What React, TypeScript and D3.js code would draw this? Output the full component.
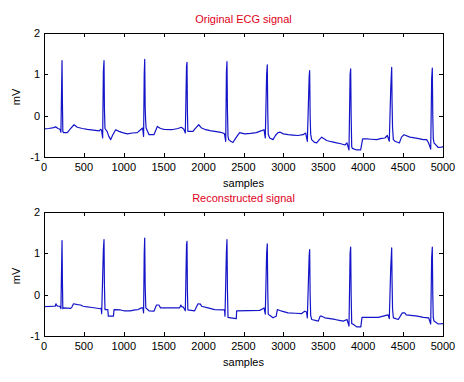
import React from "react";
import * as d3 from "d3";

const xTicks = [0, 500, 1000, 1500, 2000, 2500, 3000, 3500, 4000, 4500, 5000];
const yTicks = [-1, 0, 1, 2];
const titles = ["Original ECG signal", "Reconstructed signal"];
const xLabel = "samples";
const yLabel = "mV";

// [sample, mV]
const originalSignal: [number, number][] = [
  [0,-0.32],[60,-0.31],[120,-0.29],[146,-0.27],[175,-0.31],[200,-0.33],[212,-0.40],[220,0.58],[226,1.33],[231,0.3],[236,-0.38],[245,-0.41],[292,-0.41],[330,-0.32],[376,-0.22],[418,-0.28],[480,-0.31],[543,-0.33],[620,-0.35],[689,-0.37],[712,-0.33],[722,-0.36],[735,-0.54],[744,1.07],[752,1.33],[757,0.20],[764,-0.31],[790,-0.38],[812,-0.50],[836,-0.58],[858,-0.48],[898,-0.34],[940,-0.38],[984,-0.41],[1044,-0.44],[1110,-0.42],[1169,-0.41],[1211,-0.34],[1236,-0.30],[1248,-0.50],[1256,1.0],[1262,1.36],[1268,0.20],[1274,-0.13],[1280,-0.30],[1316,-0.46],[1378,-0.46],[1420,-0.26],[1460,-0.31],[1504,-0.33],[1600,-0.34],[1679,-0.31],[1721,-0.28],[1750,-0.32],[1771,-0.42],[1786,1.2],[1792,1.29],[1797,0.1],[1803,-0.38],[1867,-0.38],[1900,-0.30],[1939,-0.22],[1975,-0.30],[2014,-0.33],[2080,-0.36],[2139,-0.38],[2200,-0.40],[2243,-0.42],[2262,-0.44],[2277,-0.62],[2286,1.05],[2293,1.31],[2299,0.1],[2306,-0.50],[2314,-0.58],[2340,-0.62],[2368,-0.65],[2400,-0.55],[2422,-0.49],[2452,-0.41],[2515,-0.44],[2590,-0.43],[2661,-0.41],[2703,-0.38],[2757,-0.34],[2773,-0.54],[2790,1.0],[2798,1.23],[2804,0.1],[2810,-0.45],[2828,-0.54],[2870,-0.58],[2900,-0.48],[2932,-0.41],[2960,-0.40],[3000,-0.44],[3058,-0.46],[3120,-0.47],[3183,-0.48],[3246,-0.46],[3279,-0.42],[3300,-0.62],[3323,0.95],[3329,1.09],[3335,0.0],[3342,-0.45],[3354,-0.58],[3385,-0.64],[3417,-0.66],[3450,-0.58],[3480,-0.52],[3510,-0.56],[3542,-0.60],[3600,-0.63],[3668,-0.66],[3720,-0.68],[3772,-0.71],[3797,-0.66],[3822,-0.83],[3836,1.0],[3843,1.13],[3849,0.0],[3856,-0.75],[3864,-0.79],[3918,-0.83],[3968,-0.83],[3993,-0.56],[4043,-0.56],[4100,-0.57],[4168,-0.58],[4230,-0.55],[4273,-0.54],[4302,-0.48],[4327,-0.62],[4345,0.65],[4357,1.17],[4362,0.3],[4368,-0.30],[4378,-0.58],[4398,-0.62],[4453,-0.66],[4480,-0.52],[4511,-0.46],[4586,-0.52],[4680,-0.55],[4753,-0.58],[4795,-0.58],[4820,-0.66],[4846,-0.81],[4858,0.9],[4866,1.15],[4872,0.0],[4878,-0.55],[4887,-0.66],[4941,-0.77],[4983,-0.76],[5000,-0.75]
];

const reconstructedSignal: [number, number][] = [
  [0,-0.29],[125,-0.28],[140,-0.28],[150,-0.22],[160,-0.26],[175,-0.28],[200,-0.28],[212,-0.34],[220,0.61],[226,1.31],[231,0.3],[236,-0.34],[245,-0.32],[334,-0.33],[350,-0.30],[370,-0.22],[420,-0.24],[459,-0.25],[490,-0.28],[522,-0.29],[600,-0.31],[710,-0.34],[716,-0.33],[723,-0.46],[744,1.09],[752,1.33],[757,0.25],[764,-0.36],[800,-0.36],[806,-0.52],[870,-0.52],[878,-0.36],[960,-0.37],[1000,-0.39],[1080,-0.39],[1140,-0.37],[1180,-0.36],[1220,-0.32],[1240,-0.32],[1248,-0.44],[1256,1.0],[1262,1.37],[1268,0.2],[1276,-0.32],[1316,-0.39],[1378,-0.40],[1410,-0.25],[1440,-0.25],[1460,-0.32],[1600,-0.32],[1700,-0.32],[1715,-0.25],[1725,-0.29],[1745,-0.30],[1771,-0.39],[1786,1.2],[1792,1.29],[1797,0.1],[1803,-0.37],[1888,-0.39],[1910,-0.30],[1930,-0.22],[1960,-0.23],[1975,-0.28],[2055,-0.32],[2139,-0.36],[2243,-0.37],[2262,-0.37],[2268,-0.52],[2286,1.05],[2293,1.33],[2299,0.1],[2306,-0.55],[2340,-0.56],[2410,-0.58],[2414,-0.39],[2703,-0.38],[2740,-0.34],[2757,-0.32],[2773,-0.47],[2790,1.0],[2798,1.23],[2804,0.1],[2810,-0.47],[2828,-0.50],[2870,-0.56],[2910,-0.52],[2924,-0.36],[2980,-0.40],[3058,-0.44],[3150,-0.45],[3225,-0.46],[3267,-0.40],[3290,-0.42],[3300,-0.56],[3323,0.95],[3329,1.09],[3335,0.0],[3342,-0.50],[3354,-0.60],[3438,-0.64],[3460,-0.52],[3480,-0.52],[3520,-0.56],[3647,-0.60],[3700,-0.62],[3751,-0.64],[3797,-0.60],[3822,-0.76],[3836,1.0],[3843,1.15],[3849,0.0],[3856,-0.70],[3880,-0.72],[3918,-0.78],[3970,-0.78],[3985,-0.55],[4190,-0.55],[4250,-0.52],[4312,-0.49],[4327,-0.58],[4345,0.65],[4357,1.13],[4362,0.3],[4368,-0.35],[4378,-0.56],[4440,-0.60],[4490,-0.44],[4520,-0.44],[4540,-0.49],[4680,-0.52],[4753,-0.55],[4820,-0.56],[4846,-0.71],[4858,0.9],[4866,1.15],[4872,0.0],[4878,-0.55],[4887,-0.64],[4941,-0.71],[5000,-0.70]
];

const W = 464;
const H = 382;
const FONT = "'Liberation Sans', Arial, Helvetica, sans-serif";
const LINE = "#1414c8";
const RED = "#e0001a";

function Panel({ top, data, title }: { top: number; data: [number, number][]; title: string }) {
  const left = 44, right = 443, height = 124;
  const x = d3.scaleLinear().domain([0, 5000]).range([left, right]);
  const y = d3.scaleLinear().domain([-1, 2]).range([top + height, top]);
  const line = d3.line<[number, number]>().x((d) => x(d[0])).y((d) => y(d[1]));
  const tl = 4;
  return (
    <g>
      <rect x={left} y={top} width={right - left} height={height} fill="white" stroke="none" />
      <path d={line(data) || ""} fill="none" stroke={LINE} strokeWidth={1.2} strokeLinejoin="round" />
      <rect x={left + 0.5} y={top + 0.5} width={right - left} height={height} fill="none" stroke="black" strokeWidth={1} />
      {xTicks.map((t) => (
        <g key={"x" + t}>
          <line x1={Math.round(x(t)) + 0.5} x2={Math.round(x(t)) + 0.5} y1={top + height} y2={top + height - tl} stroke="black" />
          <line x1={Math.round(x(t)) + 0.5} x2={Math.round(x(t)) + 0.5} y1={top} y2={top + tl} stroke="black" />
          <text x={x(t)} y={top + height + 14} textAnchor="middle" fontSize={11} fontFamily={FONT} fill="black">{t}</text>
        </g>
      ))}
      {yTicks.map((t) => (
        <g key={"y" + t}>
          <line x1={left} x2={left + tl} y1={Math.round(y(t)) + 0.5} y2={Math.round(y(t)) + 0.5} stroke="black" />
          <line x1={right} x2={right - tl} y1={Math.round(y(t)) + 0.5} y2={Math.round(y(t)) + 0.5} stroke="black" />
          <text x={left - 4} y={y(t) + 4} textAnchor="end" fontSize={11} fontFamily={FONT} fill="black">{t}</text>
        </g>
      ))}
      <text x={(left + right) / 2} y={top + height + 30} textAnchor="middle" fontSize={11} fontFamily={FONT} fill="black">{xLabel}</text>
      <text transform={`translate(20, ${top + height / 2 + 2}) rotate(-90)`} textAnchor="middle" fontSize={11} fontFamily={FONT} fill="black">{yLabel}</text>
      <text x={(left + right) / 2} y={top - 10} textAnchor="middle" fontSize={11} fontFamily={FONT} fill={RED}>{title}</text>
    </g>
  );
}

export default function App() {
  return (
    <svg width={W} height={H} style={{ position: "absolute", left: 0, top: 0, background: "white" }}>
      <rect x={0} y={0} width={W} height={H} fill="white" />
      <Panel top={33} data={originalSignal} title={titles[0]} />
      <Panel top={212} data={reconstructedSignal} title={titles[1]} />
    </svg>
  );
}
